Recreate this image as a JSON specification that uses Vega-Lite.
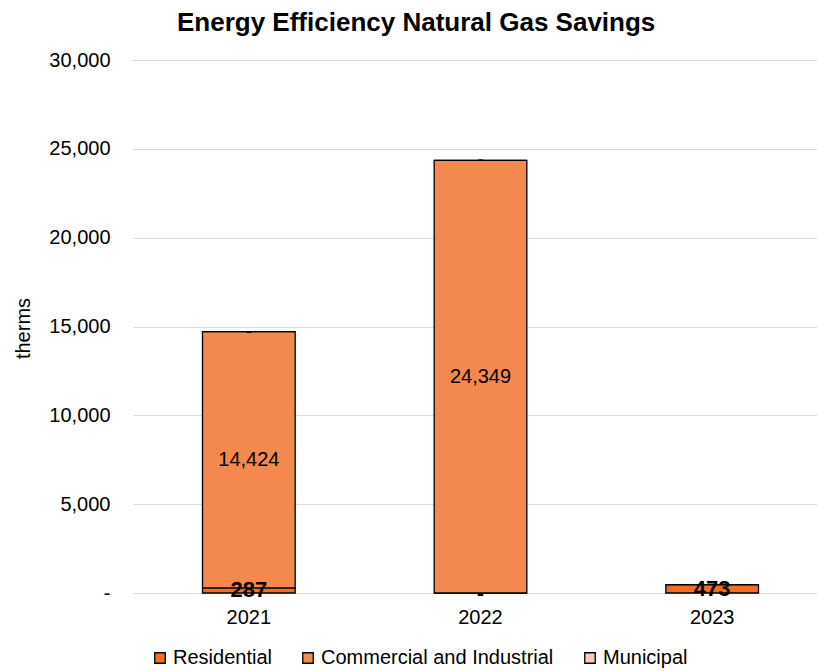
{
  "$schema": "https://vega.github.io/schema/vega-lite/v6.json",
  "width": 679,
  "height": 533,
  "autosize": {"type": "none"},
  "padding": {"left": 133, "top": 60, "right": 5, "bottom": 78},
  "background": "white",
  "config": {
    "font": "Liberation Sans",
    "view": {"stroke": null}
  },
  "title": {
    "text": "Energy Efficiency Natural Gas Savings",
    "font": "Liberation Sans",
    "fontSize": 26,
    "fontWeight": "bold",
    "color": "#000000",
    "anchor": "start",
    "frame": "group",
    "baseline": "alphabetic",
    "dx": 44,
    "offset": -7
  },
  "data": {
    "values": [
      {"year": "2021", "category": "Residential", "rank": 1, "value": 287, "label": "287"},
      {"year": "2021", "category": "Commercial and Industrial", "rank": 2, "value": 14424, "label": "14,424"},
      {"year": "2021", "category": "Municipal", "rank": 3, "value": 0, "label": "-"},
      {"year": "2022", "category": "Residential", "rank": 1, "value": 0, "label": "-"},
      {"year": "2022", "category": "Commercial and Industrial", "rank": 2, "value": 24349, "label": "24,349"},
      {"year": "2022", "category": "Municipal", "rank": 3, "value": 0, "label": "-"},
      {"year": "2023", "category": "Residential", "rank": 1, "value": 473, "label": "473"},
      {"year": "2023", "category": "Commercial and Industrial", "rank": 2, "value": 0, "label": ""},
      {"year": "2023", "category": "Municipal", "rank": 3, "value": 0, "label": ""}
    ]
  },
  "transform": [
    {"stack": "value", "groupby": ["year"], "sort": [{"field": "rank", "order": "ascending"}], "as": ["y0", "y1"]}
  ],
  "encoding": {
    "x": {
      "field": "year",
      "type": "nominal",
      "scale": {"paddingInner": 0.6, "paddingOuter": 0.3, "range": [0, 695]},
      "axis": {
        "title": null,
        "labelAngle": 0,
        "labelFontSize": 20,
        "labelColor": "#000000",
        "labelPadding": 14,
        "ticks": false,
        "domain": true,
        "domainColor": "#d9d9d9",
        "domainWidth": 1
      }
    }
  },
  "layer": [
    {
      "mark": {"type": "bar", "stroke": "#000000", "strokeWidth": 1.3},
      "encoding": {
        "y": {
          "field": "y0",
          "type": "quantitative",
          "scale": {"domain": [0, 30000]},
          "axis": {
            "title": "therms",
            "titleFontSize": 20,
            "titleFontWeight": "normal",
            "titleColor": "#000000",
            "titleX": -100,
            "titleY": 268,
            "titleAlign": "center",
            "values": [0, 5000, 10000, 15000, 20000, 25000, 30000],
            "labelExpr": "datum.value == 0 ? '-' : format(datum.value, ',')",
            "labelFontSize": 20,
            "labelColor": "#000000",
            "labelPadding": 23,
            "ticks": false,
            "domain": false,
            "grid": true,
            "gridColor": "#d9d9d9",
            "gridWidth": 1
          }
        },
        "y2": {"field": "y1"},
        "color": {
          "field": "category",
          "type": "nominal",
          "scale": {
            "domain": ["Residential", "Commercial and Industrial", "Municipal"],
            "range": ["#F26F21", "#F4894F", "#F9CBB8"]
          },
          "legend": {
            "title": null,
            "orient": "none",
            "direction": "horizontal",
            "legendX": 17,
            "legendY": 588,
            "symbolType": "square",
            "symbolSize": 110,
            "symbolStrokeColor": "#000000",
            "symbolStrokeWidth": 1.3,
            "labelFontSize": 20,
            "labelLimit": 400,
            "labelColor": "#000000",
            "labelOffset": 3,
            "columnPadding": 26
          }
        }
      }
    },
    {
      "transform": [
        {"filter": "datum.label != ''"},
        {"fold": ["y0", "y1"], "as": ["end", "pos"]},
        {"aggregate": [{"op": "mean", "field": "pos", "as": "mid"}], "groupby": ["year", "category", "label"]},
        {"filter": "datum.category == 'Residential'"}
      ],
      "mark": {"type": "text", "fontSize": 22, "fontWeight": "bold", "color": "#000000", "baseline": "middle", "align": "center"},
      "encoding": {
        "y": {"field": "mid", "type": "quantitative"},
        "text": {"field": "label"}
      }
    },
    {
      "transform": [
        {"filter": "datum.label != ''"},
        {"fold": ["y0", "y1"], "as": ["end", "pos"]},
        {"aggregate": [{"op": "mean", "field": "pos", "as": "mid"}], "groupby": ["year", "category", "label"]},
        {"filter": "datum.category != 'Residential'"}
      ],
      "mark": {"type": "text", "fontSize": 20, "color": "#000000", "baseline": "middle", "align": "center"},
      "encoding": {
        "y": {"field": "mid", "type": "quantitative"},
        "text": {"field": "label"}
      }
    }
  ]
}
